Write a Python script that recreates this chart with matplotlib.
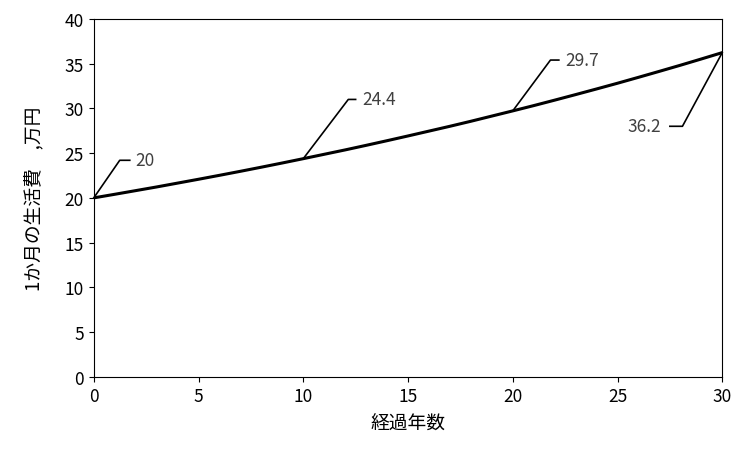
import matplotlib
matplotlib.use("Agg")
import matplotlib.pyplot as plt

plt.rcParams['font.family'] = ['Noto Sans CJK JP', 'DejaVu Sans']

# 経過年数と1か月の生活費(万円)
years = list(range(31))
cost = [20.00, 20.40, 20.81, 21.22, 21.65, 22.08, 22.52, 22.97, 23.43, 23.90,
        24.38, 24.87, 25.36, 25.87, 26.39, 26.92, 27.46, 28.00, 28.56, 29.14,
        29.72, 30.31, 30.92, 31.54, 32.17, 32.81, 33.47, 34.14, 34.82, 35.52, 36.23]
label_years = [0, 10, 20, 30]
label_texts = ["20", "24.4", "29.7", "36.2"]

fig = plt.figure(figsize=(7.5, 4.52), dpi=100)
ax = fig.add_axes([0.125, 0.164, 0.838, 0.792])
ax.plot(years, cost, color="black", lw=2.2)

# 引き出し線付きラベル: (肘x, 肘y, 線端x, 文字x, ha)
leaders = [(1.24, 24.2, 1.72, 2.0, "left"),
           (12.15, 31.0, 12.5, 12.8, "left"),
           (21.8, 35.4, 22.2, 22.5, "left"),
           (28.1, 28.0, 27.5, 27.1, "right")]
for yr, txt, (ex, ey, hx, tx, ha) in zip(label_years, label_texts, leaders):
    y0 = cost[years.index(yr)]
    ax.plot([yr, ex, hx], [y0, ey, ey], color="black", lw=1.2, clip_on=False)
    ax.text(tx, ey, txt, ha=ha, va="center", fontsize=12.5, color="#404040")

ax.set_xlim(0, 30)
ax.set_ylim(0, 40)
ax.set_xticks(range(0, 31, 5))
ax.set_yticks(range(0, 41, 5))
ax.tick_params(labelsize=12.5, direction="out")
for s in ax.spines.values():
    s.set_color("black")
ax.set_xlabel("経過年数", fontsize=13.5, labelpad=6)
ax.set_ylabel("1か月の生活費　,万円", fontsize=13.5, labelpad=14)
fig.savefig("out.png", dpi=100)
